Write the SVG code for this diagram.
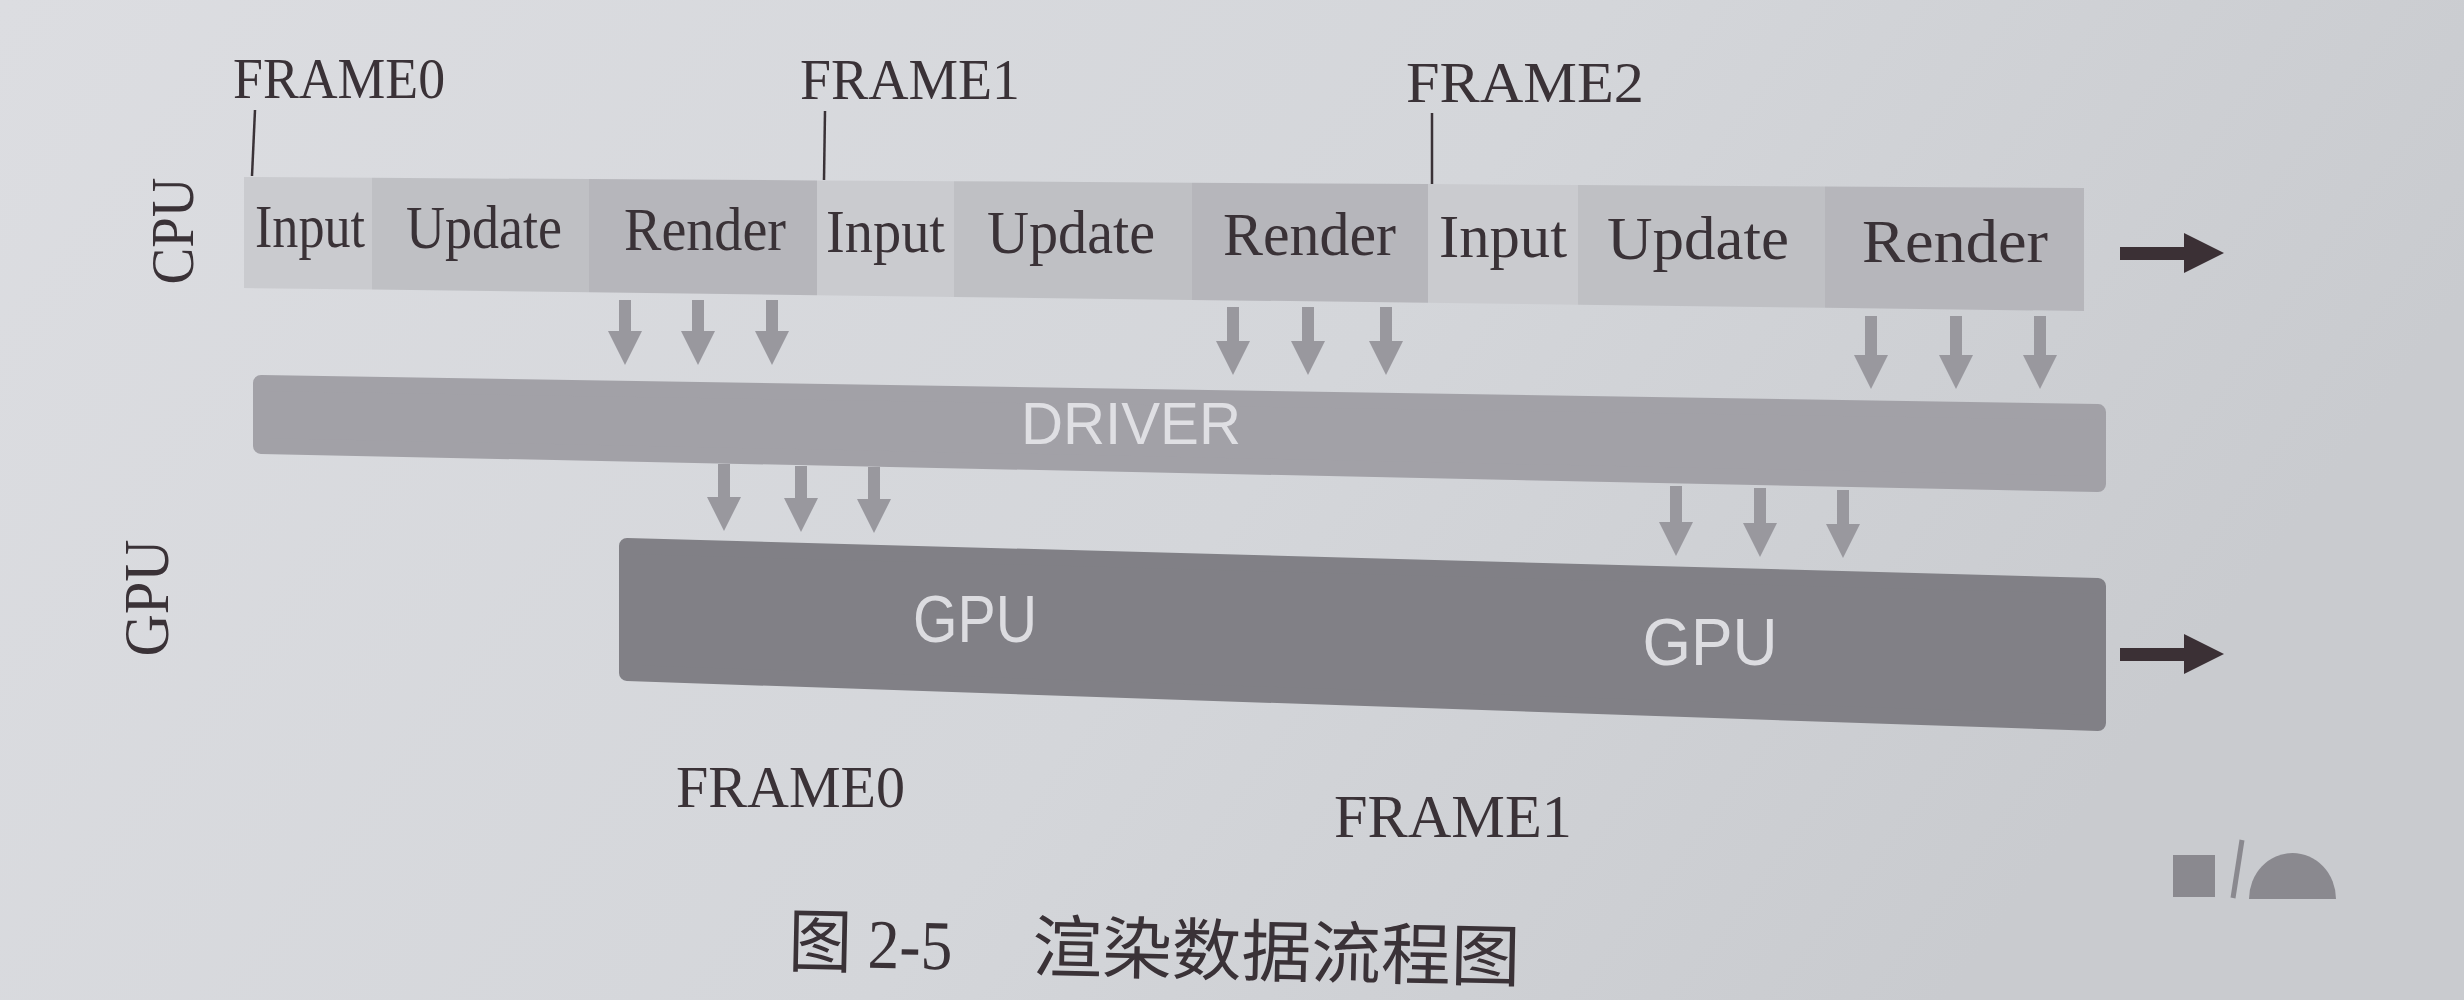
<svg xmlns="http://www.w3.org/2000/svg" width="2464" height="1000" viewBox="0 0 2464 1000">
<defs>
<linearGradient id="bg" x1="0" y1="0" x2="1" y2="0.3">
<stop offset="0" stop-color="#dcdde1"/>
<stop offset="0.6" stop-color="#d4d6da"/>
<stop offset="1" stop-color="#c9cbcf"/>
</linearGradient>
</defs>
<style>
.ser{font-family:"Liberation Serif","Noto Sans CJK SC",serif;fill:#3a3237}
.frm{font-size:58px}
.seg{font-size:61px}
.san{font-family:"Liberation Sans",Arial,sans-serif}
.in{fill:#cacbcf}
.up{fill:#bfc0c4}
.rd{fill:#b6b6bb}
.drv{fill:#a2a1a7;stroke:#a2a1a7;stroke-width:16;stroke-linejoin:round}
.gpu{fill:#818086;stroke:#818086;stroke-width:16;stroke-linejoin:round}
.tick{stroke:#3a3237;stroke-width:2.5}
.da{fill:#99989e}
.ra{fill:#3b3035}
</style>
<rect width="2464" height="1000" fill="url(#bg)"/>

<g id="frame-labels-top">
<text class="ser frm" x="233" y="98" textLength="212" lengthAdjust="spacingAndGlyphs">FRAME0</text>
<text class="ser frm" x="800" y="99" textLength="220" lengthAdjust="spacingAndGlyphs">FRAME1</text>
<text class="ser frm" x="1406" y="102" textLength="238" lengthAdjust="spacingAndGlyphs">FRAME2</text>
<line class="tick" x1="255" y1="110" x2="252" y2="176"/>
<line class="tick" x1="825" y1="111" x2="824" y2="180"/>
<line class="tick" x1="1432" y1="113" x2="1432" y2="184"/>
</g>

<g id="cpu-label"><text class="ser" font-size="62" transform="translate(193,231) rotate(-90)" text-anchor="middle" textLength="107" lengthAdjust="spacingAndGlyphs">CPU</text></g>
<g id="gpu-label"><text class="ser" font-size="64" transform="translate(168,598) rotate(-90)" text-anchor="middle" textLength="117" lengthAdjust="spacingAndGlyphs">GPU</text></g>

<g id="cpu-input-0"><polygon class="in" points="244,177 372,177.8 372,289.6 244,288"/><text class="ser seg" x="255" y="247" textLength="110" lengthAdjust="spacingAndGlyphs">Input</text></g>
<g id="cpu-update-0"><polygon class="up" points="372,177.8 589,179.1 589,292.3 372,289.6"/><text class="ser seg" x="406" y="248" textLength="156" lengthAdjust="spacingAndGlyphs">Update</text></g>
<g id="cpu-render-0"><polygon class="rd" points="589,179.1 817,180.4 817,295.2 589,292.3"/><text class="ser seg" x="624" y="250" textLength="162" lengthAdjust="spacingAndGlyphs">Render</text></g>
<g id="cpu-input-1"><polygon class="in" points="817,180.4 954,181.2 954,296.9 817,295.2"/><text class="ser seg" x="826" y="252" textLength="119" lengthAdjust="spacingAndGlyphs">Input</text></g>
<g id="cpu-update-1"><polygon class="up" points="954,181.2 1192,182.7 1192,299.9 954,296.9"/><text class="ser seg" x="987" y="253" textLength="168" lengthAdjust="spacingAndGlyphs">Update</text></g>
<g id="cpu-render-1"><polygon class="rd" points="1192,182.7 1428,184.1 1428,302.8 1192,299.9"/><text class="ser seg" x="1223" y="255" textLength="173" lengthAdjust="spacingAndGlyphs">Render</text></g>
<g id="cpu-input-2"><polygon class="in" points="1428,184.1 1578,185 1578,304.7 1428,302.8"/><text class="ser seg" x="1439" y="257" textLength="128" lengthAdjust="spacingAndGlyphs">Input</text></g>
<g id="cpu-update-2"><polygon class="up" points="1578,185 1825,186.5 1825,307.8 1578,304.7"/><text class="ser seg" x="1607" y="259" textLength="182" lengthAdjust="spacingAndGlyphs">Update</text></g>
<g id="cpu-render-2"><polygon class="rd" points="1825,186.5 2084,188 2084,311 1825,307.8"/><text class="ser seg" x="1862" y="262" textLength="186" lengthAdjust="spacingAndGlyphs">Render</text></g>

<g id="driver"><polygon class="drv" points="261,383 2098,412 2098,484 261,446"/><text class="san" x="1131" y="444" font-size="60" fill="#dfdfe3" text-anchor="middle" textLength="220" lengthAdjust="spacingAndGlyphs">DRIVER</text></g>

<g id="gpu"><polygon class="gpu" points="627,546 2098,586 2098,723 627,673"/>
<text class="san" x="975" y="642" font-size="66" fill="#dcdce0" text-anchor="middle" textLength="124" lengthAdjust="spacingAndGlyphs">GPU</text>
<text class="san" x="1710" y="665" font-size="66" fill="#dcdce0" text-anchor="middle" textLength="135" lengthAdjust="spacingAndGlyphs">GPU</text></g>

<g id="frame-labels-bottom">
<text class="ser" font-size="60" x="676" y="807" textLength="229" lengthAdjust="spacingAndGlyphs">FRAME0</text>
<text class="ser" font-size="62" x="1334" y="837" textLength="238" lengthAdjust="spacingAndGlyphs">FRAME1</text>
</g>

<g id="connectors">
<path class="da" d="M619,300 H631 V331 H642 L625,365 L608,331 H619 Z"/>
<path class="da" d="M692,300 H704 V331 H715 L698,365 L681,331 H692 Z"/>
<path class="da" d="M766,300 H778 V331 H789 L772,365 L755,331 H766 Z"/>
<path class="da" d="M1227,307 H1239 V341 H1250 L1233,375 L1216,341 H1227 Z"/>
<path class="da" d="M1302,307 H1314 V341 H1325 L1308,375 L1291,341 H1302 Z"/>
<path class="da" d="M1380,307 H1392 V341 H1403 L1386,375 L1369,341 H1380 Z"/>
<path class="da" d="M1865,316 H1877 V355 H1888 L1871,389 L1854,355 H1865 Z"/>
<path class="da" d="M1950,316 H1962 V355 H1973 L1956,389 L1939,355 H1950 Z"/>
<path class="da" d="M2034,316 H2046 V355 H2057 L2040,389 L2023,355 H2034 Z"/>
<path class="da" d="M718,464 H730 V497 H741 L724,531 L707,497 H718 Z"/>
<path class="da" d="M795,466 H807 V498 H818 L801,532 L784,498 H795 Z"/>
<path class="da" d="M868,467 H880 V499 H891 L874,533 L857,499 H868 Z"/>
<path class="da" d="M1670,486 H1682 V522 H1693 L1676,556 L1659,522 H1670 Z"/>
<path class="da" d="M1754,488 H1766 V523 H1777 L1760,557 L1743,523 H1754 Z"/>
<path class="da" d="M1837,490 H1849 V524 H1860 L1843,558 L1826,524 H1837 Z"/>
<path class="ra" d="M2120,247 H2184 V233 L2224,253 L2184,273 V260 H2120 Z"/>
<path class="ra" d="M2120,648 H2184 V634 L2224,654 L2184,674 V661 H2120 Z"/>
</g>

<g id="page-mark" fill="#8a898f">
<rect x="2173" y="855" width="42" height="42"/>
<line x1="2242" y1="840" x2="2233" y2="898" stroke="#8a898f" stroke-width="5"/>
<path d="M2249,899 A43.5,46 0 0 1 2336,899 Z"/>
</g>

<g id="caption" transform="rotate(1.2 788 966)">
<text class="ser" font-size="70" x="788" y="966" textLength="164" lengthAdjust="spacingAndGlyphs">图 2-5</text>
<text class="ser" font-size="68" x="1032" y="966" textLength="488" lengthAdjust="spacingAndGlyphs">渲染数据流程图</text>
</g>
</svg>
